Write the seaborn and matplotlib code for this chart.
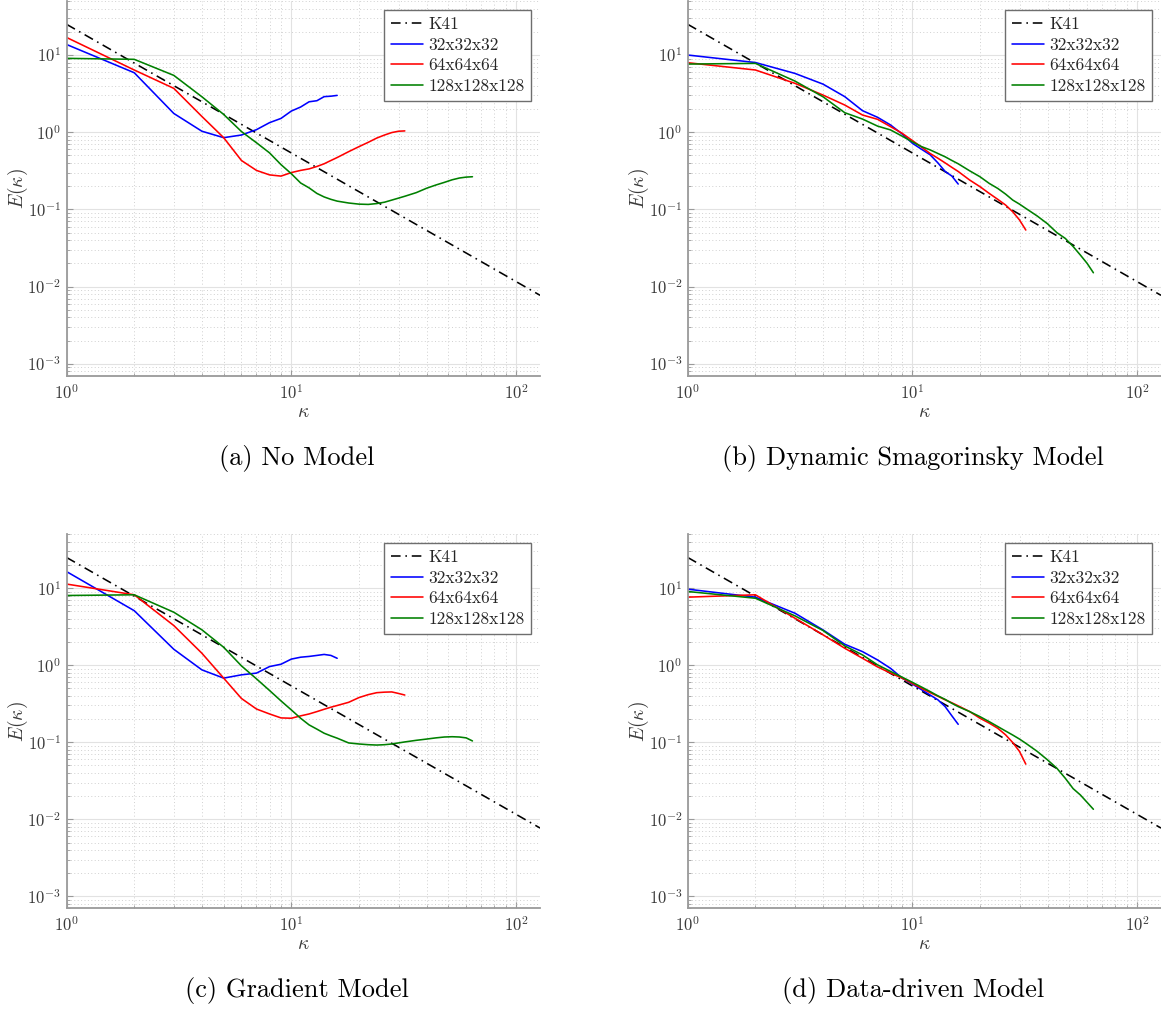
import numpy as np
import pandas as pd
import matplotlib
matplotlib.use("Agg")
import matplotlib.pyplot as plt
import seaborn as sns
from matplotlib.ticker import LogLocator, FuncFormatter, NullFormatter

# ---------------------------------------------------------------- data
# wavenumbers sampled for each grid resolution
k16 = list(range(1, 17))
k32 = list(range(1, 17)) + list(range(18, 33, 2))
k64 = list(range(1, 17)) + list(range(18, 33, 2)) + list(range(36, 65, 4))

# Kolmogorov -5/3 reference line (end points)
k41_k = [1, 128]
k41_E = [25.0, 0.0077]

grid_labels = ["32x32x32", "64x64x64", "128x128x128"]

# (a) No Model
a_32 = [13.7, 5.9, 1.75, 1.03, 0.85, 0.92, 1.08, 1.33, 1.51, 1.88, 2.12, 2.48,
        2.56, 2.89, 2.93, 3.0]
a_64 = [16.9, 6.4, 3.7, 1.6, 0.85, 0.43, 0.32, 0.28, 0.27, 0.30, 0.32, 0.335,
        0.36, 0.39, 0.43, 0.47,
        0.56, 0.65, 0.74, 0.84, 0.92, 0.99, 1.03, 1.04]
a_128 = [9.06, 8.8, 5.45, 2.88, 1.7, 1.02, 0.73, 0.54, 0.38, 0.29, 0.22, 0.19,
         0.161, 0.145, 0.135, 0.128,
         0.121, 0.117, 0.116, 0.119, 0.124, 0.132, 0.14, 0.148,
         0.165, 0.188, 0.207, 0.224, 0.242, 0.255, 0.262, 0.265]

# (b) Dynamic Smagorinsky Model
b_32 = [10.0, 8.0, 5.78, 4.2, 2.89, 1.9, 1.56, 1.24, 0.95, 0.72, 0.6, 0.51,
        0.40, 0.31, 0.27, 0.213]
b_64 = [7.95, 6.4, 4.3, 3.03, 2.25, 1.67, 1.47, 1.18, 0.97, 0.78, 0.64, 0.53,
        0.46, 0.40, 0.35, 0.31,
        0.24, 0.197, 0.161, 0.135, 0.114, 0.093, 0.073, 0.054]
b_128 = [7.64, 7.8, 4.6, 2.88, 1.79, 1.48, 1.2, 1.07, 0.89, 0.75, 0.65, 0.59,
         0.53, 0.48, 0.43, 0.39,
         0.316, 0.265, 0.217, 0.187, 0.158, 0.132, 0.117, 0.103,
         0.082, 0.065, 0.050, 0.042, 0.033, 0.0256, 0.020, 0.0151]

# (c) Gradient Model
c_32 = [16.4, 5.1, 1.61, 0.87, 0.68, 0.75, 0.79, 0.96, 1.03, 1.2, 1.27, 1.3,
        1.34, 1.38, 1.34, 1.23]
c_64 = [11.3, 8.2, 3.27, 1.43, 0.68, 0.37, 0.27, 0.233, 0.207, 0.205, 0.22,
        0.233, 0.25, 0.268, 0.285, 0.30,
        0.33, 0.38, 0.415, 0.44, 0.447, 0.45, 0.43, 0.41]
c_128 = [8.03, 8.2, 4.87, 2.88, 1.71, 0.98, 0.665, 0.47, 0.344, 0.263, 0.205,
         0.168, 0.148, 0.131, 0.121, 0.113,
         0.098, 0.095, 0.093, 0.092, 0.093, 0.095, 0.098, 0.101,
         0.106, 0.110, 0.114, 0.117, 0.118, 0.117, 0.114, 0.104]

# (d) Data-driven Model
d_32 = [9.7, 7.64, 4.73, 2.87, 1.87, 1.5, 1.17, 0.91, 0.68, 0.57, 0.48, 0.41,
        0.355, 0.29, 0.22, 0.171]
d_64 = [7.64, 8.2, 4.07, 2.48, 1.66, 1.23, 0.95, 0.79, 0.68, 0.58, 0.5, 0.44,
        0.395, 0.355, 0.325, 0.297,
        0.25, 0.205, 0.177, 0.152, 0.125, 0.099, 0.076, 0.052]
d_128 = [9.05, 7.4, 4.37, 2.82, 1.78, 1.36, 1.01, 0.83, 0.70, 0.60, 0.52, 0.455,
         0.40, 0.36, 0.32, 0.29,
         0.25, 0.215, 0.185, 0.16, 0.14, 0.124, 0.11, 0.097,
         0.076, 0.059, 0.046, 0.034, 0.025, 0.0207, 0.0166, 0.0135]

captions = ["(a) No Model", "(b) Dynamic Smagorinsky Model",
            "(c) Gradient Model", "(d) Data-driven Model"]
panels = [(a_32, a_64, a_128), (b_32, b_64, b_128),
          (c_32, c_64, c_128), (d_32, d_64, d_128)]

# ---------------------------------------------------------------- style
sns.set_theme(style="white")
plt.rcParams["mathtext.fontset"] = "cm"
plt.rcParams["font.family"] = ["DejaVu Serif"]

colors = ["#0000ff", "#ff0000", "#008000"]
spine_col = "#9a9a9a"
tick_col = "#3a3a3a"

W, H = 1161, 1009
fig = plt.figure(figsize=(W / 100, H / 100), dpi=100)


def rect(l, r, t, b):
    return [l / W, 1 - b / H, (r - l) / W, (b - t) / H]


rects = [rect(66.6, 540.1, 1.1, 375.7), rect(687.8, 1161.0, 1.1, 375.7),
         rect(66.6, 540.1, 534.3, 908.3), rect(687.8, 1161.0, 534.3, 908.3)]
cap_pos = [(297, 458), (913, 458), (297, 990), (913, 990)]

decade_fmt = FuncFormatter(lambda v, p: r"$10^{%d}$" % int(round(np.log10(v))))

for rc, (s32, s64, s128), cap, (cx, cy) in zip(rects, panels, captions, cap_pos):
    ax = fig.add_axes(rc)
    df = pd.concat([
        pd.DataFrame({"k": k16, "E": s32, "grid": grid_labels[0]}),
        pd.DataFrame({"k": k32, "E": s64, "grid": grid_labels[1]}),
        pd.DataFrame({"k": k64, "E": s128, "grid": grid_labels[2]}),
    ], ignore_index=True)

    sns.lineplot(x=k41_k, y=k41_E, color="black", lw=1.15,
                 linestyle=(0, (6, 3, 1, 3)), label="K41", ax=ax)
    sns.lineplot(data=df, x="k", y="E", hue="grid", hue_order=grid_labels,
                 palette=colors, estimator=None, sort=False, lw=1.15, ax=ax)

    ax.set_xscale("log")
    ax.set_yscale("log")
    ax.set_xlim(1, 128)
    ax.set_ylim(7e-4, 50)

    ax.xaxis.set_major_locator(LogLocator(base=10, numticks=10))
    ax.yaxis.set_major_locator(LogLocator(base=10, numticks=10))
    ax.xaxis.set_minor_locator(LogLocator(base=10, subs=np.arange(2, 10), numticks=20))
    ax.yaxis.set_minor_locator(LogLocator(base=10, subs=np.arange(2, 10), numticks=20))
    ax.xaxis.set_major_formatter(decade_fmt)
    ax.yaxis.set_major_formatter(decade_fmt)
    ax.xaxis.set_minor_formatter(NullFormatter())
    ax.yaxis.set_minor_formatter(NullFormatter())

    ax.grid(which="major", color="#e2e2e2", lw=0.8, ls="-")
    ax.grid(which="minor", color="#d0d0d0", lw=0.7, ls=(0, (1, 2.5)))
    ax.set_axisbelow(True)

    for side in ["top", "right"]:
        ax.spines[side].set_visible(False)
    for side in ["left", "bottom"]:
        ax.spines[side].set_color(spine_col)
        ax.spines[side].set_linewidth(1.3)

    ax.tick_params(which="both", direction="in", color=spine_col,
                   labelcolor=tick_col, labelsize=12, left=True, bottom=True)
    ax.tick_params(which="major", length=4, width=0.8)
    ax.tick_params(axis="y", which="major", pad=4)
    ax.tick_params(axis="x", which="major", pad=6)
    ax.tick_params(which="minor", length=2.5, width=0.6)

    ax.set_xlabel(r"$\kappa$", fontsize=14, color=tick_col)
    ax.set_ylabel(r"$E(\kappa)$", fontsize=14, color=tick_col)
    ax.xaxis.set_label_coords(0.5, -0.072)
    ax.yaxis.set_label_coords(-0.078, 0.5)

    leg = ax.legend(loc="upper right", prop={"family": "cmr10", "size": 12.5},
                    frameon=True, fancybox=False, framealpha=1,
                    edgecolor="#6e6e6e", handlelength=1.85, handletextpad=0.3,
                    labelspacing=0.3, borderpad=0.4, borderaxespad=0.5)
    leg.get_frame().set_linewidth(1.0)

    fig.text(cx / W, 1 - cy / H, cap, family="cmr10", fontsize=19,
             ha="center", va="center", color="black")

fig.savefig("out.png", dpi=100)
